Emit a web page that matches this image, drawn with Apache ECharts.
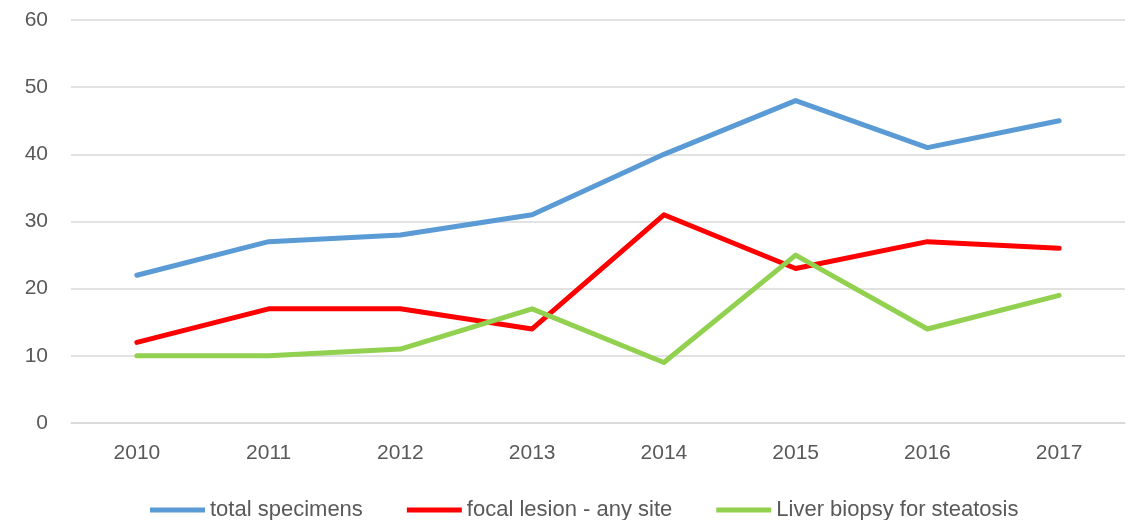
<!DOCTYPE html>
<html>
<head>
<meta charset="utf-8">
<script src="https://cdn.jsdelivr.net/npm/echarts@6/dist/echarts.min.js"></script>
<style>
  html, body { margin: 0; padding: 0; background: #fff; }
  #chart { width: 1135px; height: 520px; }
</style>
</head>
<body>
<div id="chart"></div>
<script>
var years = ['2010', '2011', '2012', '2013', '2014', '2015', '2016', '2017'];
var totalSpecimens = [22, 27, 28, 31, 40, 48, 41, 45];
var focalLesion = [12, 17, 17, 14, 31, 23, 27, 26];
var liverBiopsy = [10, 10, 11, 17, 9, 25, 14, 19];

var myChart = echarts.init(document.getElementById('chart'));
var textColor = '#595959';
var font = 'Liberation Sans';

function lineSeries(name, data, color) {
    return {
        name: name,
        type: 'line',
        data: data,
        symbol: 'none',
        color: color,
        lineStyle: { width: 5, color: color, cap: 'round', join: 'round' }
    };
}

var option = {
    animation: false,
    grid: {
        left: 71,
        right: 10,
        top: 20,
        bottom: 97
    },
    legend: {
        top: 494,
        left: 145,
        itemWidth: 55,
        itemHeight: 5,
        itemGap: 44,
        icon: 'rect',
        textStyle: { color: textColor, fontSize: 22, fontFamily: font },
        data: ['total specimens', 'focal lesion - any site', 'Liver biopsy for steatosis']
    },
    xAxis: {
        type: 'category',
        boundaryGap: true,
        data: years,
        axisLine: { show: true, lineStyle: { color: '#D9D9D9', width: 1.5 } },
        axisTick: { show: false },
        axisLabel: { color: textColor, fontSize: 21, fontFamily: font, margin: 20 }
    },
    yAxis: {
        type: 'value',
        min: 0,
        max: 60,
        interval: 10,
        axisLine: { show: false },
        axisTick: { show: false },
        axisLabel: { color: textColor, fontSize: 21, fontFamily: font, margin: 23 },
        splitLine: { lineStyle: { color: '#D9D9D9', width: 1.5 } }
    },
    series: [
        lineSeries('total specimens', totalSpecimens, '#5B9BD5'),
        lineSeries('focal lesion - any site', focalLesion, '#FF0000'),
        lineSeries('Liver biopsy for steatosis', liverBiopsy, '#92D050')
    ]
};

myChart.setOption(option);
</script>
</body>
</html>
